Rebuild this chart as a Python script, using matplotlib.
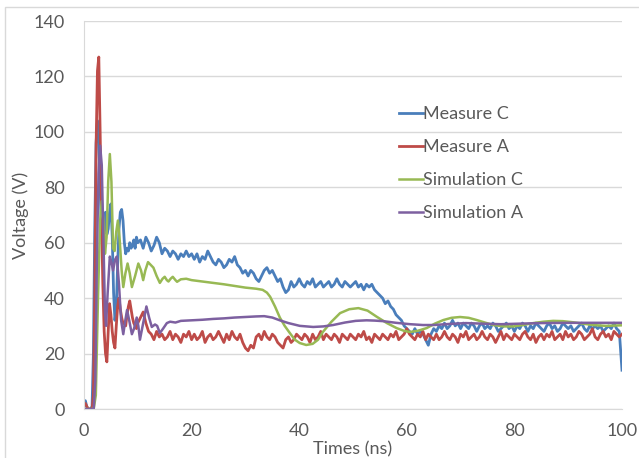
import numpy as np
import matplotlib
matplotlib.use("Agg")
import matplotlib.pyplot as plt
from matplotlib.patches import Rectangle

plt.rcParams["font.family"] = ["Lato", "DejaVu Sans"]

TEXT = "#595959"
GRID = "#D9D9D9"

# sample grid of the scope captures: 0.25 ns up to 10 ns, then 0.5 ns
t_meas = np.concatenate([np.arange(0, 10.01, 0.25), np.arange(10.5, 100.01, 0.5)])

measure_c = [
    1, 3, 1, 0, 0, 0, 1, 20, 65, 96, 104, 98, 80, 63, 58, 66, 71, 63, 65, 71,
    74, 62, 42, 32, 36, 52, 65, 71, 72, 68, 60, 56, 58, 57, 60, 58, 59, 61, 58, 62, 60,
    61, 58, 62, 60, 57, 59, 62, 60, 56, 58,
    57, 55, 57, 56, 54, 56, 55, 57, 55, 56,
    54, 56, 53, 55, 54, 57, 55, 53, 52, 54,
    53, 51, 52, 54, 53, 55, 52, 51, 49, 50,
    48, 50, 49, 47, 46, 48, 50, 51, 49, 50,
    48, 46, 47, 44, 42, 43, 46, 44, 45, 47,
    45, 44, 46, 45, 47, 44, 45, 46, 44, 45,
    46, 44, 45, 47, 45, 44, 46, 45, 44, 45,
    46, 44, 45, 43, 45, 44, 45, 43, 42, 41,
    40, 38, 39, 37, 36, 34, 33, 32, 30, 29,
    28, 27, 29, 27, 28, 27, 25, 23, 27, 29,
    28, 30, 29, 31, 29, 30, 32, 30, 31, 29,
    31, 30, 29, 31, 30, 28, 30, 31, 29, 30,
    29, 31, 30, 28, 29, 30, 31, 29, 30, 28,
    30, 29, 31, 30, 28, 30, 29, 31, 30, 29,
    28, 30, 31, 29, 30, 28, 29, 31, 30, 29,
    30, 28, 29, 30, 31, 29, 28, 30, 29, 30,
    29, 30, 28, 29, 30, 29, 31, 29, 28, 14,
]

measure_a = [
    2, 2, 1, 0, 0, 0, 0, 5, 40, 95, 122, 127, 100, 70, 45, 28, 20, 17, 28, 38,
    34, 28, 24, 22, 30, 37, 40, 36, 33, 31, 31, 30, 34, 37, 39, 36, 33, 31, 30, 29, 31,
    33, 35, 31, 28, 27, 25, 28, 26, 27, 25,
    26, 28, 25, 27, 26, 24, 27, 26, 28, 25,
    27, 25, 26, 28, 24, 26, 27, 25, 26, 28,
    26, 24, 27, 25, 28, 26, 25, 27, 24, 22,
    21, 23, 22, 26, 27, 25, 28, 26, 25, 27,
    26, 24, 23, 22, 25, 26, 24, 25, 27, 26,
    25, 27, 26, 24, 27, 25, 26, 28, 25, 27,
    26, 25, 27, 26, 24, 27, 26, 25, 27, 26,
    25, 27, 26, 28, 25, 26, 24, 27, 26, 25,
    27, 26, 25, 27, 26, 28, 25, 26, 27, 29,
    27, 26, 25, 27, 26, 28, 25, 27, 26, 25,
    27, 25, 26, 28, 26, 25, 27, 26, 24, 27,
    26, 28, 25, 26, 27, 25, 26, 28, 26, 25,
    27, 26, 24, 26, 28, 25, 27, 26, 25, 27,
    26, 25, 27, 28, 26, 25, 27, 24, 26, 27,
    25, 27, 26, 28, 25, 26, 27, 25, 28, 26,
    27, 25, 26, 28, 27, 25, 26, 27, 29, 26,
    25, 27, 28, 26, 27, 25, 28, 27, 26, 27,
]

t_sim_c = [
    0, 1.8, 2.2, 2.6, 3.0, 3.3, 3.6, 3.9, 4.2, 4.5, 4.8, 5.1, 5.4, 5.7, 6.0, 6.3,
    6.6, 7.0, 7.3, 7.7, 8.1, 8.5, 8.9, 9.5, 10.1, 10.6, 11.0, 11.4, 11.9, 12.4,
    12.9, 13.5, 14.1, 14.6, 15.0, 15.4, 15.7, 16.1, 16.5, 17.0, 17.3, 18, 19, 20,
    22, 24, 26, 28, 30, 32, 33.2, 34, 34.6, 35.5, 36.4, 37.3, 38.3, 39.2, 40.1,
    41.3, 42.5, 43.5, 44.4, 46, 47.6, 49.3, 51, 52.7, 54.4, 56.3, 58.1, 59.5,
    60.6, 62, 63.7, 65.2, 66.8, 68.3, 69.9, 71.5, 73, 74.5, 76.1, 78, 79.8, 81.6,
    83.5, 85.4, 87.2, 89, 90.9, 92.7, 94.6, 97, 100,
]
sim_c = [
    0, 0, 5, 40, 68, 75, 68, 56, 62, 82, 92, 82, 58, 57, 64, 68,
    62, 50, 44, 49, 52.5, 49, 44, 48, 52.5, 50, 46.5, 50, 53, 52,
    51, 48, 45.5, 47, 47.7, 46.5, 46, 47, 47.7, 46.5, 45.9, 46.8, 47, 46.5,
    46, 45.5, 45, 44.4, 43.8, 43.4, 43, 42, 40.5, 37, 33, 30, 27.3, 25, 23.8,
    23.1, 23.5, 25, 27.8, 31.5, 34.6, 36, 36.4, 35.5, 33.3, 31, 29.2, 28.2,
    27.8, 28.2, 29.2, 30.8, 32.1, 32.9, 33.2, 32.9, 32.1, 31.2, 30.3, 29.8, 29.8, 30.3,
    31, 31.5, 31.8, 31.7, 31.3, 30.8, 30.3, 30, 30.2,
]

t_sim_a = [
    0, 1.8, 2.1, 2.4, 2.7, 3.0, 3.3, 3.6, 3.9, 4.1, 4.4, 4.8, 5.1, 5.4, 5.8, 6.1,
    6.5, 6.9, 7.3, 7.6, 8.0, 8.4, 8.9, 9.3, 9.8, 10.1, 10.4, 10.9, 11.6, 12.1,
    12.6, 13.2, 13.6, 14.1, 14.7, 15.4, 16, 17, 18, 20, 22, 24, 26, 28, 30, 32,
    33.5, 35, 36.4, 38, 40.1, 42.6, 44.5, 46.3, 48.5, 50.5, 52.5, 54, 55.6, 58,
    60.6, 63, 65, 68, 71, 74, 77.5, 81, 85, 90, 95, 100,
]
sim_a = [
    0, 0, 10, 55, 85, 95, 88, 62, 35, 30, 42, 55, 53, 50, 54, 55,
    45, 32, 27, 31, 35.7, 32, 27, 29, 33, 30, 25, 30, 37, 33,
    29.6, 30.5, 30, 27.4, 29, 31, 31.5, 31.2, 31.8, 32, 32.2, 32.5, 32.7, 33, 33.2, 33.4,
    33.5, 33, 32, 31, 30, 29.6, 29.8, 30.3, 31.2, 31.8, 32, 31.9, 31.7, 31.1,
    30.6, 30.3, 30.3, 30.7, 31, 30.8, 30.6, 30.8, 31, 31.1, 31.1, 31.1,
]

fig = plt.figure(figsize=(6.39, 4.58), dpi=100)
ax = fig.add_axes([84 / 639, 1 - 409 / 458, 538 / 639, 388 / 458])

# light chart-area border
fig.patches.append(Rectangle((5 / 639, -0.1), 1.1, 1 - 7 / 458 + 0.1,
                             transform=fig.transFigure, fill=False,
                             edgecolor=GRID, lw=1.0))

ax.plot(t_meas, measure_c, color="#4A7EBB", lw=2.0, label="Measure C")
ax.plot(t_meas, measure_a, color="#BE4B48", lw=2.0, label="Measure A")
ax.plot(t_sim_c, sim_c, color="#98B954", lw=1.8, label="Simulation C")
ax.plot(t_sim_a, sim_a, color="#7D60A0", lw=1.8, label="Simulation A")

ax.set_xlim(0, 100)
ax.set_ylim(0, 140)
ax.set_xticks(range(0, 101, 20))
ax.set_yticks(range(0, 141, 20))
ax.grid(axis="y", color=GRID, lw=1.0)
ax.set_axisbelow(True)
ax.tick_params(length=0, labelsize=13, labelcolor=TEXT)
ax.tick_params(axis="y", pad=14)
ax.tick_params(axis="x", pad=10)
for side in ("top", "right"):
    ax.spines[side].set_visible(False)
for side in ("left", "bottom"):
    ax.spines[side].set_color(GRID)

ax.set_xlabel("Times (ns)", fontsize=13, color=TEXT)
ax.set_ylabel("Voltage (V)", fontsize=13, color=TEXT)
ax.xaxis.set_label_coords(0.5, -0.103)
ax.xaxis.label.set_va("center")
ax.yaxis.set_label_coords(-0.117, 0.5)
ax.yaxis.label.set_va("center")

leg = ax.legend(loc="upper left", bbox_to_anchor=(0.573, 0.80), frameon=False,
                fontsize=13, handlelength=1.3, handletextpad=0.02,
                labelspacing=0.95, borderaxespad=0)
for txt in leg.get_texts():
    txt.set_color(TEXT)

fig.savefig("out.png", dpi=100)
